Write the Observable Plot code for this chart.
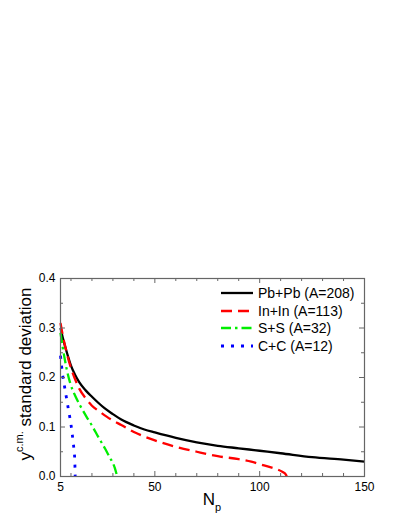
<!DOCTYPE html>
<html><head><meta charset="utf-8">
<script src="https://cdn.jsdelivr.net/npm/d3@7"></script>
<script src="https://cdn.jsdelivr.net/npm/@observablehq/plot@0.6"></script>
<style>
body{margin:0;background:#fff;font-family:"Liberation Sans",Arial,sans-serif;}
#wrap{position:relative;width:399px;height:516px;overflow:hidden;}
.ytitle{position:absolute;left:26px;top:374px;transform:translate(-50%,-50%) rotate(-90deg);font-size:17px;white-space:nowrap;color:#000;}
.ytitle .sup{font-size:11px;position:relative;top:-8px;}
.xtitle{position:absolute;left:212px;top:491px;transform:translateX(-50%);font-size:17px;line-height:17px;white-space:nowrap;color:#000;}
.xtitle .sub{font-size:11px;position:relative;top:6px;}
.leg{position:absolute;left:221px;height:18px;display:flex;align-items:center;font-size:14px;white-space:nowrap;color:#000;}
.leg svg{margin-right:5px;}
</style></head><body><div id="wrap"></div>
<script>
// Series names and styles
const seriesNames = ["Pb+Pb (A=208)", "In+In (A=113)", "S+S (A=32)", "C+C (A=12)"];
const seriesColors = ["#000000", "#ff0000", "#00ee00", "#0000ff"];
const seriesDash = [null, "11,6", "10,4,2.5,4", "3,7"];

// Pb+Pb
const pbN = [5, 6, 7, 8, 9, 10, 12, 14, 17, 20, 23, 26, 30, 34, 40, 45, 50, 60, 70, 80, 90, 100, 110, 125, 140, 150];
const pbY = [0.300, 0.282, 0.266, 0.251, 0.237, 0.224, 0.205, 0.190, 0.174, 0.161, 0.149, 0.138, 0.126, 0.115, 0.103, 0.095, 0.089, 0.078, 0.069, 0.062, 0.057, 0.052, 0.047, 0.039, 0.034, 0.030];
// In+In
const inN = [5, 6, 7, 8, 10, 12, 14, 17, 20, 24, 27, 30, 34, 40, 50, 60, 70, 80, 90, 96, 100, 105, 108, 111, 112.5, 113];
const inY = [0.310, 0.287, 0.267, 0.249, 0.219, 0.196, 0.177, 0.158, 0.143, 0.130, 0.121, 0.113, 0.104, 0.090, 0.073, 0.060, 0.050, 0.041, 0.035, 0.030, 0.025, 0.019, 0.015, 0.009, 0.004, 0.0];
// S+S
const sN = [5, 6, 7, 8, 9.6, 12, 14.4, 17.5, 20, 23, 26.3, 28.7, 30, 31, 31.6, 32];
const sY = [0.290, 0.262, 0.238, 0.216, 0.189, 0.163, 0.143, 0.120, 0.103, 0.080, 0.056, 0.037, 0.027, 0.016, 0.007, 0.0];
// C+C
const cN = [5, 5.5, 6, 7, 8, 9, 10, 10.5, 11, 11.5, 11.8, 12];
const cY = [0.244, 0.224, 0.206, 0.180, 0.155, 0.130, 0.105, 0.089, 0.071, 0.051, 0.034, 0.0];

// Ticks
const xTickLabels = [5, 50, 100, 150];
const xMajor = [50, 100];
const xMinor = [10, 20, 30, 40, 60, 70, 80, 90, 110, 120, 130, 140];
const yTickLabels = [0.0, 0.1, 0.2, 0.3, 0.4];
const yMajor = [0.1, 0.2, 0.3];
const yMinor = [0.05, 0.15, 0.25, 0.35];

const seriesN = [pbN, inN, sN, cN];
const seriesY = [pbY, inY, sY, cY];
const rows = [];
seriesNames.forEach((name, i) => seriesN[i].forEach((n, j) => rows.push({name, n, v: seriesY[i][j]})));

const W = 399, H = 516, mL = 60, mR = 35, mT = 278, mB = 40;
const fw = W - mL - mR, fh = H - mT - mB;
const tc = "#666";

const lineMarks = seriesNames.map((name, i) => Plot.line(rows.filter(r => r.name === name), {
  x: "n", y: "v", curve: "monotone-x", stroke: seriesColors[i], strokeWidth: i === 3 ? 2.8 : 2.3,
  strokeDasharray: seriesDash[i] || undefined, strokeLinecap: "butt"
}));

const chart = Plot.plot({
  width: W, height: H, marginLeft: mL, marginRight: mR, marginTop: mT, marginBottom: mB,
  style: {fontFamily: '"Liberation Sans", Arial, sans-serif', fontSize: "12px", color: "#000", background: "#fff"},
  x: {domain: [5, 150], label: null},
  y: {domain: [0, 0.4], label: null},
  marks: [
    ...lineMarks,
    Plot.tickX(xMinor, {x: d => d, insetTop: fh - 3, stroke: tc}),
    Plot.tickX(xMinor, {x: d => d, insetBottom: fh - 3, stroke: tc}),
    Plot.tickX(xMajor, {x: d => d, insetTop: fh - 5, stroke: tc}),
    Plot.tickX(xMajor, {x: d => d, insetBottom: fh - 5, stroke: tc}),
    Plot.tickY(yMinor, {y: d => d, insetRight: fw - 3, stroke: tc}),
    Plot.tickY(yMinor, {y: d => d, insetLeft: fw - 3, stroke: tc}),
    Plot.tickY(yMajor, {y: d => d, insetRight: fw - 5, stroke: tc}),
    Plot.tickY(yMajor, {y: d => d, insetLeft: fw - 5, stroke: tc}),
    Plot.frame({stroke: tc, strokeWidth: 1.2}),
    Plot.axisX(xTickLabels, {tickSize: 0, tickPadding: 6, label: null, fontSize: 12}),
    Plot.axisY(yTickLabels, {tickSize: 0, tickPadding: 5, label: null, fontSize: 12, tickFormat: d3.format(".1f")})
  ]
});

const wrap = document.getElementById("wrap");
wrap.appendChild(chart);

const yt = document.createElement("div");
yt.className = "ytitle";
yt.innerHTML = 'y<span class="sup">c.m.</span> standard deviation';
wrap.appendChild(yt);

const xt = document.createElement("div");
xt.className = "xtitle";
xt.innerHTML = 'N<span class="sub">p</span>';
wrap.appendChild(xt);

const legTops = [284, 302, 319, 337];
seriesNames.forEach((name, i) => {
  const d = document.createElement("div");
  d.className = "leg";
  d.style.top = legTops[i] + "px";
  const dash = seriesDash[i] ? `stroke-dasharray="${seriesDash[i]}"` : "";
  d.innerHTML = `<svg width="32" height="18"><line x1="0" x2="32" y1="9" y2="9" stroke="${seriesColors[i]}" stroke-width="${i === 3 ? 2.8 : 2.3}" ${dash}/></svg><span>${name}</span>`;
  wrap.appendChild(d);
});
</script>
</body></html>
